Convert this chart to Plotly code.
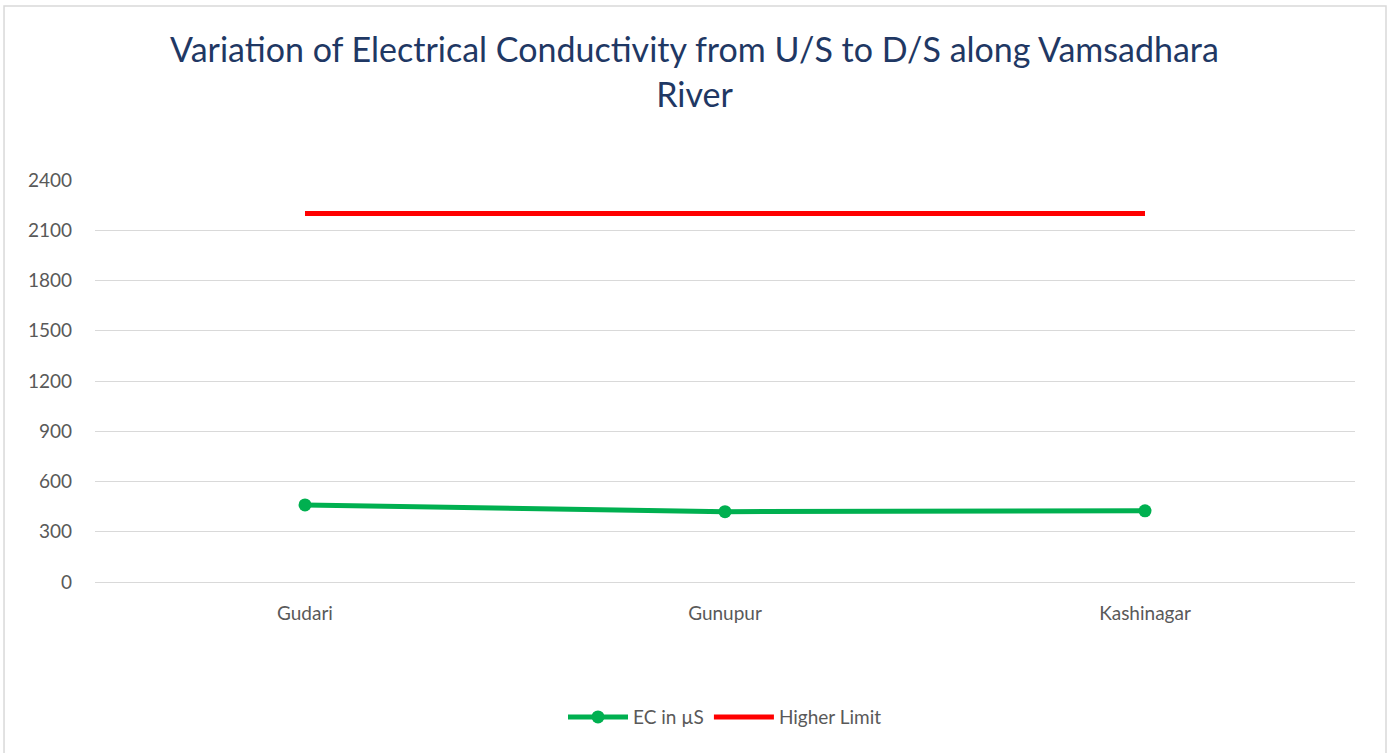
import plotly.graph_objects as go

categories = ["Gudari", "Gunupur", "Kashinagar"]
ec_values = [460, 420, 425]
higher_limit = [2200, 2200, 2200]
y_ticks = [0, 300, 600, 900, 1200, 1500, 1800, 2100, 2400]

font_family = "Lato, 'Open Sans', sans-serif"

fig = go.Figure()
fig.add_trace(go.Scatter(
    x=categories, y=ec_values, name="EC in µS", mode="lines+markers",
    line=dict(color="#00B050", width=5), marker=dict(size=13, color="#00B050"),
))
fig.add_trace(go.Scatter(
    x=categories, y=higher_limit, name="Higher Limit", mode="lines",
    line=dict(color="#FF0000", width=5),
))

fig.update_layout(
    width=1389, height=753,
    paper_bgcolor="white", plot_bgcolor="white",
    margin=dict(l=95, r=34, t=180, b=171),
    font=dict(family=font_family, color="#595959", size=19),
    title=dict(
        text="Variation of Electrical Conductivity from U/S to D/S along Vamsadhara<br>River",
        x=0.5, xanchor="center", y=0.917, yanchor="middle",
        font=dict(size=34, color="#1F3864", family=font_family),
    ),
    xaxis=dict(
        type="category", range=[-0.5, 2.5], showgrid=False, zeroline=False,
        showline=False, ticks="", ticklabelstandoff=18,
        tickfont=dict(size=19, color="#595959"),
    ),
    yaxis=dict(
        range=[0, 2400], tickvals=y_ticks, showgrid=True, gridcolor="#D9D9D9",
        gridwidth=1, zeroline=True, zerolinecolor="#D9D9D9", zerolinewidth=1,
        showline=False, ticks="", ticklabelstandoff=22,
        tickfont=dict(size=19, color="#595959"),
    ),
    legend=dict(
        orientation="h", x=0.5, xanchor="center", y=-0.336, yanchor="middle",
        font=dict(size=19, color="#595959"), itemwidth=60,
    ),
    shapes=[dict(
        type="rect", xref="paper", yref="paper",
        x0=-0.0722, x1=1.0246, y0=-0.6, y1=1.4328,
        line=dict(color="#D9D9D9", width=1.5), fillcolor="rgba(0,0,0,0)", layer="below",
    )],
)

fig.write_html("out.html", config={"displayModeBar": False},
               post_script="document.body.style.margin='0';")
